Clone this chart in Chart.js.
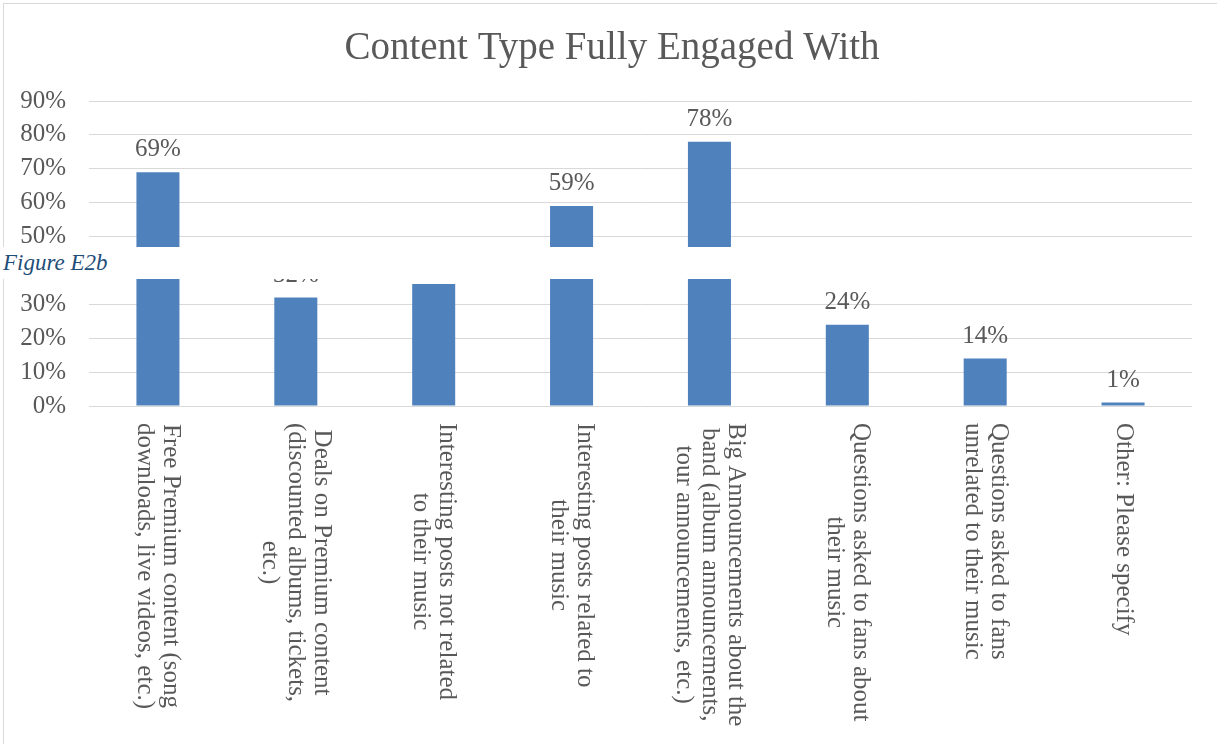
<!DOCTYPE html>
<html>
<head>
<meta charset="utf-8">
<title>Content Type Fully Engaged With</title>
<script src="https://cdn.jsdelivr.net/npm/chart.js@4/dist/chart.umd.min.js"></script>
<style>
  html, body { margin: 0; padding: 0; background: #ffffff; }
  #wrap { position: relative; width: 1217px; height: 744px; overflow: hidden; background: #ffffff; }
  #frame { position: absolute; left: 3px; top: 3px; width: 1400px; height: 900px;
           border: 1px solid #d9d9d9; box-sizing: border-box; }
  #chart { position: absolute; left: 0; top: 0; }
  #caption { position: absolute; left: 0; top: 247px; width: 1217px; height: 32px;
             background: #ffffff; color: #1F4E79; font: italic 23px "Liberation Serif", serif;
             line-height: 32px; padding-left: 3px; box-sizing: border-box; white-space: nowrap; }
</style>
</head>
<body>
<div id="wrap">
  <div id="frame"></div>
  <canvas id="chart" width="1217" height="744"></canvas>
  <div id="caption">Figure E2b</div>
</div>
<script>
// Categories (each entry is the wrapped lines of one axis label)
const categories = [
  ["Free Premium content (song", "downloads, live videos, etc.)"],
  ["Deals on Premium content", "(discounted albums, tickets,", "etc.)"],
  ["Interesting posts not related", "to their music"],
  ["Interesting posts related to", "their music"],
  ["Big Announcements about the", "band (album announcements,", "tour announcements, etc.)"],
  ["Questions asked to fans about", "their music"],
  ["Questions asked to fans", "unrelated to their music"],
  ["Other: Please specify"]
];

// Share of respondents fully engaged with each content type (%)
const engagedPct = [69, 32, 36, 59, 78, 24, 14, 1];

// Value axis ticks (%)
const yTickValues = [0, 10, 20, 30, 40, 50, 60, 70, 80, 90];
const yTickLabels = yTickValues.map(v => v + "%");

const CHART_TITLE = "Content Type Fully Engaged With";
const TEXT_COLOR = "#595959";
const BAR_COLOR = "#4F81BD";
const GRID_COLOR = "#d9d9d9";
const SERIF = '"Liberation Serif", "Times New Roman", serif';

// Chart title, centred over the whole figure
const figureTitle = {
  id: "figureTitle",
  afterDraw(chart) {
    const ctx = chart.ctx;
    ctx.save();
    ctx.font = "39px " + SERIF;
    ctx.fillStyle = TEXT_COLOR;
    ctx.textAlign = "center";
    ctx.textBaseline = "middle";
    ctx.fillText(CHART_TITLE, 612, 49);
    ctx.restore();
  }
};

// Value labels above each bar
const valueLabels = {
  id: "valueLabels",
  afterDatasetsDraw(chart) {
    const ctx = chart.ctx;
    const meta = chart.getDatasetMeta(0);
    ctx.save();
    ctx.font = "25px " + SERIF;
    ctx.fillStyle = TEXT_COLOR;
    ctx.textAlign = "center";
    ctx.textBaseline = "alphabetic";
    meta.data.forEach((bar, i) => {
      ctx.fillText(engagedPct[i] + "%", bar.x, bar.y - 16);
    });
    ctx.restore();
  }
};

// Category labels, turned 90° clockwise and hung below the axis
const categoryLabels = {
  id: "categoryLabels",
  afterDraw(chart) {
    const ctx = chart.ctx;
    const xScale = chart.scales.x;
    const top = chart.chartArea.bottom + 17;
    const lineGap = 26;
    ctx.save();
    ctx.font = "25px " + SERIF;
    ctx.fillStyle = TEXT_COLOR;
    ctx.textAlign = "center";
    ctx.textBaseline = "middle";
    categories.forEach((lines, i) => {
      const x = xScale.getPixelForValue(i);
      const w = Math.max(...lines.map(l => ctx.measureText(l).width));
      ctx.save();
      ctx.translate(x, top);
      ctx.rotate(Math.PI / 2);
      lines.forEach((line, k) => {
        ctx.fillText(line, w / 2, (k - (lines.length - 1) / 2) * lineGap);
      });
      ctx.restore();
    });
    ctx.restore();
  }
};

new Chart(document.getElementById("chart"), {
  type: "bar",
  data: {
    labels: categories,
    datasets: [{
      data: engagedPct,
      backgroundColor: BAR_COLOR,
      borderWidth: 0,
      barPercentage: 0.312,
      categoryPercentage: 1.0
    }]
  },
  options: {
    responsive: false,
    devicePixelRatio: 1,
    animation: false,
    events: [],
    layout: { padding: { left: 0, right: 25, top: 101, bottom: 0 } },
    plugins: {
      legend: { display: false },
      tooltip: { enabled: false },
      title: { display: false }
    },
    scales: {
      x: {
        grid: { display: false },
        border: { display: false },
        ticks: { display: false },
        afterFit(scale) { scale.height = 338; }
      },
      y: {
        min: 0,
        max: 90,
        ticks: {
          stepSize: 10,
          autoSkip: false,
          padding: 23,
          color: TEXT_COLOR,
          font: { family: SERIF, size: 25 },
          callback: (value) => {
            const i = yTickValues.indexOf(Math.round(value));
            return i >= 0 ? yTickLabels[i] : "";
          }
        },
        grid: { color: GRID_COLOR, lineWidth: 1, drawTicks: false },
        border: { display: false },
        afterFit(scale) { scale.width = 89; }
      }
    }
  },
  plugins: [valueLabels, categoryLabels, figureTitle]
});
</script>
</body>
</html>
